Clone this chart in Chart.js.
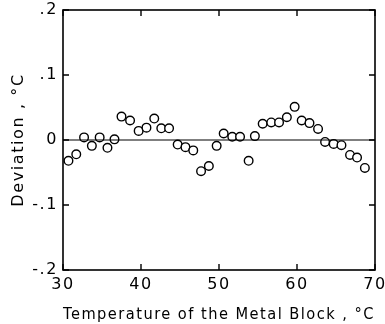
<!DOCTYPE html>
<html>
<head>
<meta charset="utf-8">
<script src="https://cdn.jsdelivr.net/npm/chart.js@4"></script>
<style>
  html, body { margin: 0; padding: 0; background: #ffffff; }
  #wrap { width: 385px; height: 324px; }
</style>
</head>
<body>
<div id="wrap"><canvas id="chart" width="385" height="324"></canvas></div>
<script>
// ==========================================
// Deviation vs. metal block temperature
// ==========================================

const temperatures = [
    30.7, 31.7, 32.7, 33.7, 34.7, 35.7, 36.6, 37.5, 38.6, 39.7,
    40.7, 41.7, 42.6, 43.6, 44.7, 45.7, 46.7, 47.7, 48.7, 49.7,
    50.6, 51.7, 52.7, 53.8, 54.6, 55.6, 56.7, 57.7, 58.7, 59.7,
    60.6, 61.6, 62.7, 63.6, 64.7, 65.7, 66.8, 67.7, 68.7
];
const deviations = [
    -0.032, -0.022, 0.004, -0.009, 0.004, -0.012, 0.001, 0.036, 0.030, 0.014,
    0.019, 0.033, 0.018, 0.018, -0.007, -0.011, -0.016, -0.048, -0.040, -0.009,
    0.010, 0.005, 0.005, -0.032, 0.006, 0.025, 0.027, 0.027, 0.035, 0.051,
    0.030, 0.026, 0.017, -0.003, -0.006, -0.008, -0.023, -0.027, -0.043
];

const xTicks = [30, 40, 50, 60, 70];
const yTicks = [-0.2, -0.1, 0, 0.1, 0.2];
const yTickLabels = ['-.2', '-.1', '0', '.1', '.2'];

const FONT = 'DejaVu Sans';

// the old plot lettering is spaced out a bit
const spacingPlugin = {
    id: 'spacing',
    beforeDraw(chart) {
        chart.ctx.letterSpacing = '1.6px';
    }
};

// frame, zero line and inward ticks
const framePlugin = {
    id: 'frame',
    afterDatasetsDraw(chart) {
        const { ctx, chartArea: a, scales } = chart;
        const x = scales.x, y = scales.y;
        const tick = 6;
        ctx.save();
        ctx.strokeStyle = '#000';
        ctx.lineWidth = 1.6;
        ctx.strokeRect(a.left, a.top, a.right - a.left, a.bottom - a.top);

        ctx.beginPath();
        ctx.lineWidth = 1.1;
        const y0 = y.getPixelForValue(0);
        ctx.moveTo(a.left, y0);
        ctx.lineTo(a.right, y0);
        ctx.stroke();

        ctx.beginPath();
        ctx.lineWidth = 1.4;
        xTicks.forEach(v => {
            const px = x.getPixelForValue(v);
            ctx.moveTo(px, a.bottom);
            ctx.lineTo(px, a.bottom - tick);
            ctx.moveTo(px, a.top);
            ctx.lineTo(px, a.top + tick);
        });
        yTicks.forEach(v => {
            const py = y.getPixelForValue(v);
            ctx.moveTo(a.left, py);
            ctx.lineTo(a.left + tick, py);
            ctx.moveTo(a.right, py);
            ctx.lineTo(a.right - tick, py);
        });
        ctx.stroke();
        ctx.restore();
    }
};

const points = temperatures.map((t, i) => ({ x: t, y: deviations[i] }));

new Chart(document.getElementById('chart'), {
    type: 'scatter',
    data: {
        datasets: [{
            data: points,
            pointStyle: 'circle',
            pointRadius: 4.3,
            pointBorderWidth: 1.4,
            pointBorderColor: '#000',
            pointBackgroundColor: '#fff'
        }]
    },
    options: {
        responsive: false,
        animation: false,
        layout: { padding: { top: 10, right: 10, left: 0, bottom: 0 } },
        plugins: {
            legend: { display: false },
            tooltip: { enabled: false }
        },
        scales: {
            x: {
                type: 'linear',
                min: 30,
                max: 70,
                afterBuildTicks: s => { s.ticks = xTicks.map(v => ({ value: v })); },
                afterFit: s => {
                    s.height = 54;
                    s.paddingLeft = 0;
                    s.paddingRight = 0;
                },
                grid: { display: false, drawTicks: false },
                border: { display: false },
                ticks: {
                    color: '#000',
                    padding: 5,
                    maxRotation: 0,
                    font: { family: FONT, size: 16 }
                },
                title: {
                    display: true,
                    text: 'Temperature of the Metal Block , °C',
                    color: '#000',
                    padding: { top: 5, bottom: 0 },
                    font: { family: FONT, size: 16 }
                }
            },
            y: {
                type: 'linear',
                min: -0.2,
                max: 0.2,
                afterBuildTicks: s => { s.ticks = yTicks.map(v => ({ value: v })); },
                afterFit: s => {
                    s.width = 63;
                    s.paddingTop = 0;
                    s.paddingBottom = 0;
                },
                grid: { display: false, drawTicks: false },
                border: { display: false },
                ticks: {
                    color: '#000',
                    padding: 5,
                    font: { family: FONT, size: 16 },
                    callback: (v, i) => yTickLabels[i]
                },
                title: {
                    display: true,
                    text: 'Deviation , °C',
                    color: '#000',
                    padding: { top: 9, bottom: 0 },
                    font: { family: FONT, size: 16 }
                }
            }
        }
    },
    plugins: [spacingPlugin, framePlugin]
});
</script>
</body>
</html>
